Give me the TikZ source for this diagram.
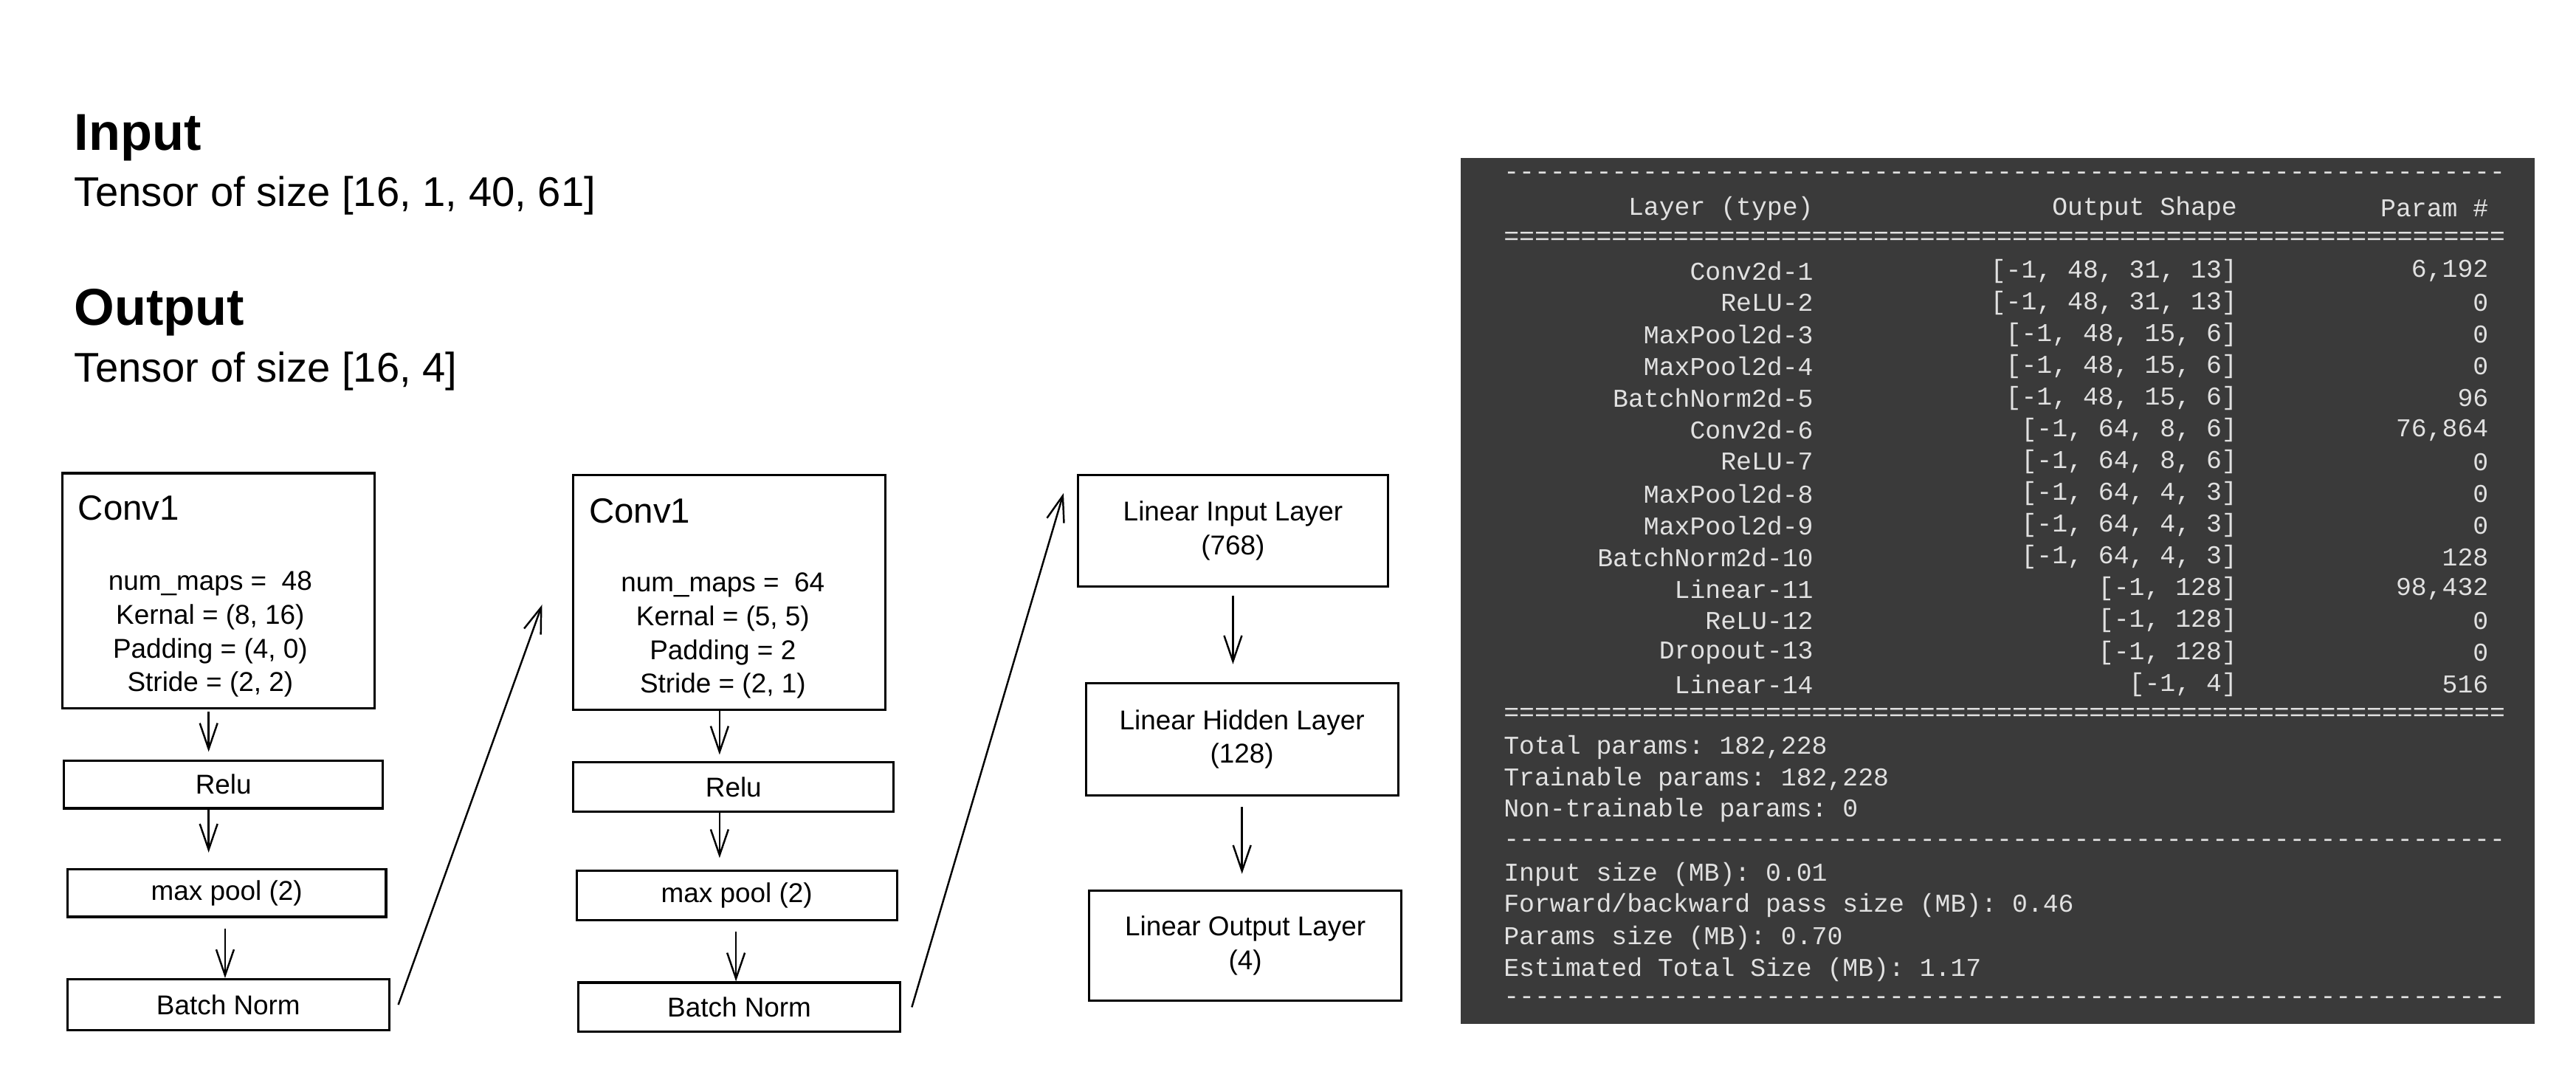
\documentclass[tikz,border=0pt]{standalone}
\usepackage{fontspec}
\setmainfont{Liberation Sans}
\setmonofont{Liberation Mono}
\usetikzlibrary{arrows.meta,positioning}
\definecolor{termbg}{RGB}{58,58,58}
\definecolor{termfg}{RGB}{225,225,225}
\newcommand{\px}{0.02226cm}

\begin{document}
\begin{tikzpicture}[
    x=\px, y=-\px,
    block/.style={rectangle, draw, line width=0.9pt, inner sep=0pt},
    lbl/.style={font=\fontsize{10.5}{13}\selectfont, align=center},
    title/.style={font=\fontsize{13.5}{16}\selectfont, anchor=west},
    arrow/.style={-{Straight Barb[length=3.5mm, width=2.4mm]}, line width=0.7pt},
    term/.style={font=\ttfamily\fontsize{9.9}{12}\selectfont, text=termfg, inner sep=0pt},
    head/.style={font=\bfseries\fontsize{20}{24}\selectfont, anchor=west, inner sep=0pt},
    sub/.style={font=\fontsize{16}{19}\selectfont, anchor=west, inner sep=0pt}
]
\useasboundingbox (0,0) rectangle (1568,657);

% Input / Output description
\node[head] (inhead) at (45,84) {Input};
\node[sub] (insize) at (45,119) {Tensor of size [16, 1, 40, 61]};
\node[head] (outhead) at (45,190) {Output};
\node[sub] (outsize) at (45,226) {Tensor of size [16, 4]};

% First conv block
\node[block, minimum width=190*\px, minimum height=143*\px] (conva) at (133,359.5) {};
\node[title] (convaname) at (42,309) {Conv1};
\node[lbl] (convapar) at (128,386) {num\_maps =\ \ 48\\Kernal = (8, 16)\\Padding = (4, 0)\\Stride = (2, 2)};
\node[block, minimum width=194*\px, minimum height=29*\px, lbl] (relua) at (136,477.5) {Relu};
\node[block, minimum width=194*\px, minimum height=29*\px, lbl] (poola) at (138,543.5) {max pool (2)};
\node[block, minimum width=196*\px, minimum height=31*\px, lbl] (norma) at (139,611.5) {Batch Norm};

% Second conv block
\node[block, minimum width=190*\px, minimum height=143*\px] (convb) at (444,360.5) {};
\node[title] (convbname) at (353,311) {Conv1};
\node[lbl] (convbpar) at (440,387) {num\_maps =\ \ 64\\Kernal = (5, 5)\\Padding = 2\\Stride = (2, 1)};
\node[block, minimum width=195*\px, minimum height=30*\px, lbl] (relub) at (446.5,479) {Relu};
\node[block, minimum width=195*\px, minimum height=30*\px, lbl] (poolb) at (448.5,545) {max pool (2)};
\node[block, minimum width=196*\px, minimum height=30*\px, lbl] (normb) at (450,613) {Batch Norm};

% Linear layers
\node[block, minimum width=189*\px, minimum height=68*\px, lbl] (linin) at (750.5,323) {Linear Input Layer\\(768)};
\node[block, minimum width=190*\px, minimum height=68*\px, lbl] (linhid) at (756,450) {Linear Hidden Layer\\(128)};
\node[block, minimum width=190*\px, minimum height=67*\px, lbl] (linout) at (758,575.5) {Linear Output Layer\\(4)};
\coordinate (convbin) at (330,368);

% Flow
\draw[arrow] ([yshift=-1pt]conva.south -| 127,0) -- ([yshift=3pt]relua.north -| 127,0);
\draw[arrow] (relua.south -| 127,0) -- ([yshift=6pt]poola.north -| 127,0);
\draw[arrow] ([yshift=-4pt]poola.south -| 137,0) -- (norma.north -| 137,0);
\draw[arrow] ([xshift=3pt]norma.east) -- (convbin);
\draw[arrow] (convb.south -| 438,0) -- ([yshift=2.5pt]relub.north -| 438,0);
\draw[arrow] (relub.south -| 438,0) -- ([yshift=4.5pt]poolb.north -| 438,0);
\draw[arrow] ([yshift=-4pt]poolb.south -| 448,0) -- (normb.north -| 448,0);
\draw[arrow] ([xshift=4pt]normb.east) -- ([xshift=-5pt,yshift=14.5pt]linin.west);
\draw[arrow] ([yshift=-3pt]linin.south) -- ([yshift=7pt]linhid.north -| linin.south);
\draw[arrow] ([yshift=-4pt]linhid.south) -- ([yshift=6pt]linout.north -| linhid.south);

% Model summary
\node[rectangle, fill=termbg, minimum width=654*\px, minimum height=527*\px, inner sep=0pt] (summary) at (1216,359.5) {};
\foreach \y/\s in {107/-, 513/-, 609/-, 145/=, 435/=} {
    \node[term, anchor=west] at (915,\y) {\foreach \k in {1,...,65}{\s}};
}
\node[term, anchor=east] (hlayer) at (1104,127) {Layer (type)};
\node[term, anchor=east] (hshape) at (1362,127) {Output Shape};
\node[term, anchor=east] (hparam) at (1515,127) {Param \#};
\foreach \i/\a/\b/\c in {0/{Conv2d-1}/{[-1, 48, 31, 13]}/{6,192},
    1/{ReLU-2}/{[-1, 48, 31, 13]}/{0},
    2/{MaxPool2d-3}/{[-1, 48, 15, 6]}/{0},
    3/{MaxPool2d-4}/{[-1, 48, 15, 6]}/{0},
    4/{BatchNorm2d-5}/{[-1, 48, 15, 6]}/{96},
    5/{Conv2d-6}/{[-1, 64, 8, 6]}/{76,864},
    6/{ReLU-7}/{[-1, 64, 8, 6]}/{0},
    7/{MaxPool2d-8}/{[-1, 64, 4, 3]}/{0},
    8/{MaxPool2d-9}/{[-1, 64, 4, 3]}/{0},
    9/{BatchNorm2d-10}/{[-1, 64, 4, 3]}/{128},
    10/{Linear-11}/{[-1, 128]}/{98,432},
    11/{ReLU-12}/{[-1, 128]}/{0},
    12/{Dropout-13}/{[-1, 128]}/{0},
    13/{Linear-14}/{[-1, 4]}/{516}} {
    \node[term, anchor=east] at (1104,165+19.35*\i) {\a};
    \node[term, anchor=east] at (1362,165+19.35*\i) {\b};
    \node[term, anchor=east] at (1515,165+19.35*\i) {\c};
}
\foreach \y/\t in {455/{Total params: 182,228}, 474/{Trainable params: 182,228},
    493/{Non-trainable params: 0}, 532/{Input size (MB): 0.01},
    551/{Forward/backward pass size (MB): 0.46}, 571/{Params size (MB): 0.70},
    590/{Estimated Total Size (MB): 1.17}} {
    \node[term, anchor=west] at (915,\y) {\t};
}

\end{tikzpicture}
\end{document}
